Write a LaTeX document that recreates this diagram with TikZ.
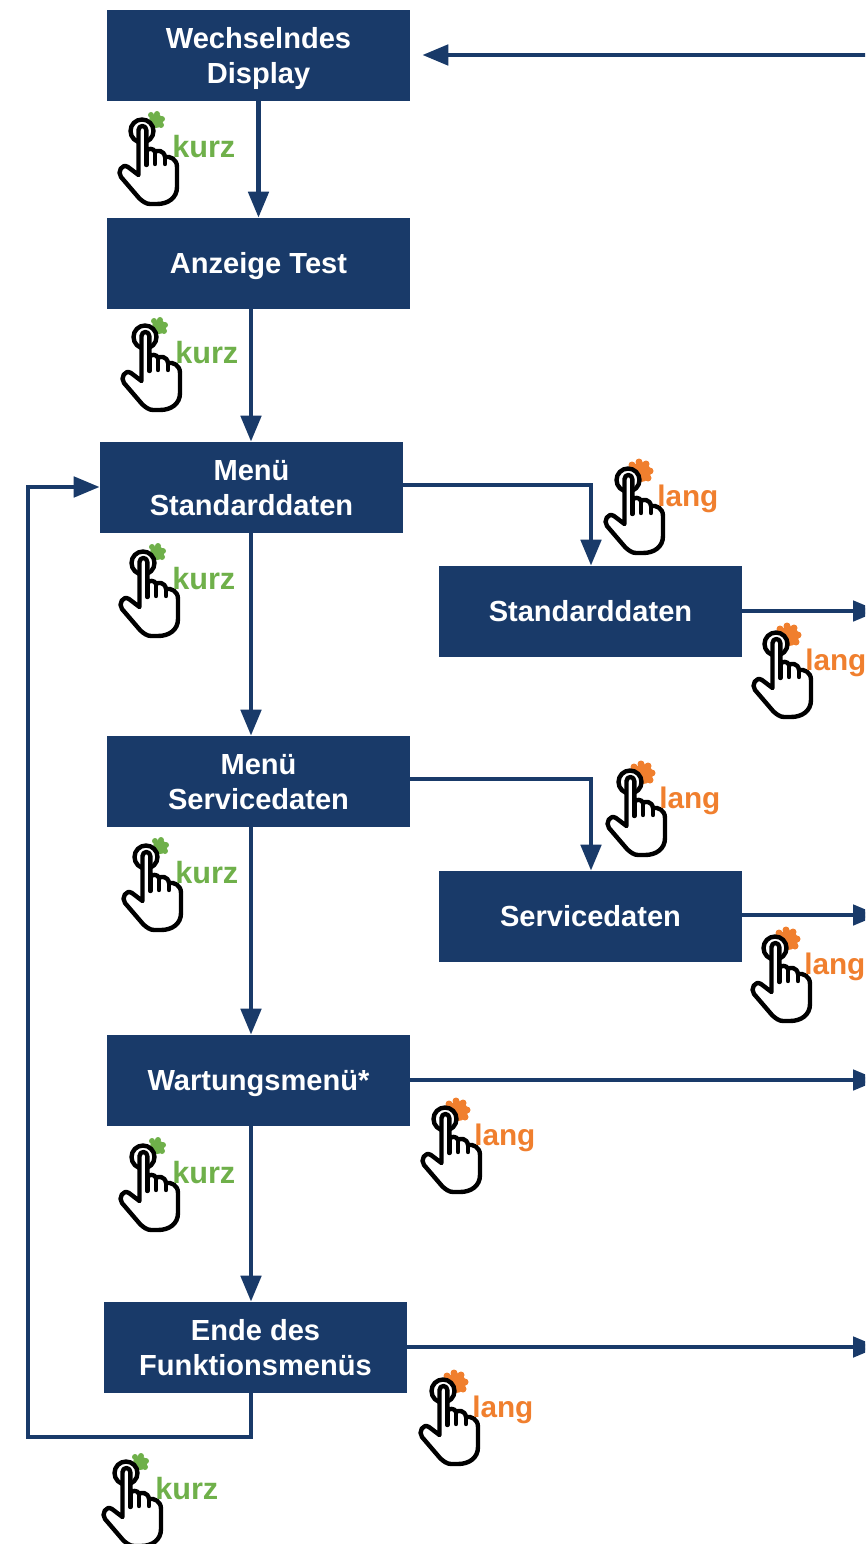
\documentclass[tikz,border=0pt]{standalone}
\usepackage{fontspec}
\setmainfont{Liberation Sans}
\usetikzlibrary{arrows.meta}
\definecolor{navy}{HTML}{193A69}
\definecolor{kgreen}{HTML}{6FB04A}
\definecolor{lorange}{HTML}{F07F2E}
\newcommand{\boxline}{\rule[-5.35pt]{0pt}{26.2pt}}
\tikzset{
  x=0.75pt,y=-0.75pt,
  menubox/.style={fill=navy,minimum width=227.25pt,minimum height=68.25pt,inner sep=0pt,align=center,text=white,
    font=\fontsize{21.8}{26.2}\selectfont\bfseries},
  link/.style={draw=navy,line width=3.6pt,line join=miter},
  arr/.style={link,-{Triangle[length=19.5pt,width=15pt]}},
  kurzlabel/.style={text=kgreen,anchor=west,inner sep=0pt,font=\fontsize{23}{26}\selectfont\bfseries},
  langlabel/.style={text=lorange,anchor=west,inner sep=0pt,yshift=-2.2pt,font=\fontsize{22.3}{26}\selectfont\bfseries},
  handline/.style={draw=black,line width=3.3pt,line join=round,line cap=round},
  pics/handgreen/.style={code={
    \fill[kgreen] (9,-16) circle (3) (15,-17) circle (3) (20,-12) circle (3) (19,-6) circle (3) (14,-10) circle (7);
    \handicon}},
  pics/handorange/.style={code={
    \fill[lorange] (4,-15) circle (3.5) (11,-18) circle (3.5) (18,-16) circle (3.5) (22,-9) circle (3.5) (20,-2) circle (3.5) (13,-8) circle (10);
    \handicon}}
}
\newcommand{\handicon}{%
  \draw[handline,fill=white] (0,0) circle (11.5);
  \draw[handline,fill=white] (-3.5,-1) .. controls (-3.5,-3.5) and (-1.5,-5) .. (0.4,-5)
     .. controls (2.5,-5) and (4.3,-3.5) .. (4.3,-1) -- (4.3,20)
     .. controls (6,17) and (12,17) .. (13,21)
     .. controls (15,19) and (22,19) .. (23,26)
     .. controls (28,25) and (35,28) .. (35,36)
     -- (35,56) .. controls (35,67) and (26,73) .. (15,73)
     -- (8,73) .. controls (4,73) and (0,70) .. (-3,67)
     -- (-21,46) .. controls (-25,41) and (-20,32) .. (-14,36)
     -- (-3.5,44) -- cycle;
  \draw[handline] (4.3,20) -- (4.3,34) (13,21) -- (13,33) (23,26) -- (23,33);
}
\begin{document}
\begin{tikzpicture}
\useasboundingbox (0,0) rectangle (865,1544);
\clip (0,0) rectangle (865,1544);
\node[menubox] (wechsel) at (258.5,55.5) {\boxline Wechselndes\\\boxline Display};
\node[menubox] (anzeige) at (258.5,263.5) {\boxline Anzeige Test};
\node[menubox] (menustd) at (251.5,487.5) {\boxline Menü\\\boxline Standarddaten};
\node[menubox] (std) at (590.5,611.5) {\boxline Standarddaten};
\node[menubox] (menuserv) at (258.5,781.5) {\boxline Menü\\\boxline Servicedaten};
\node[menubox] (serv) at (590.5,916.5) {\boxline Servicedaten};
\node[menubox] (wart) at (258.5,1080.5) {\boxline Wartungsmenü*};
\node[menubox] (ende) at (255.5,1347.5) {\boxline Ende des\\\boxline Funktionsmenüs};
% free ends at the right edge
\coordinate (r0) at (879,55);
\coordinate (r1) at (879,611);
\coordinate (r2) at (879,915);
\coordinate (r3) at (879,1080);
\coordinate (r4) at (879,1347);
\coordinate (b1) at (251,1437);
\coordinate (b2) at (28,1437);
\coordinate (b3) at (28,487);
\coordinate (x1) at (251,0);
\coordinate (t1) at (591,485);
\coordinate (t2) at (591,779);
% connectors
\draw[arr,shorten >=9pt] (r0) -- (wechsel.east |- r0);
\draw[arr] (wechsel.south) -- (anzeige.north);
\draw[arr] (anzeige.south -| x1) -- (menustd.north -| x1);
\draw[arr] (menustd.south -| x1) -- (menuserv.north -| x1);
\draw[arr] (menuserv.south -| x1) -- (wart.north -| x1);
\draw[arr] (wart.south -| x1) -- (ende.north -| x1);
\draw[arr] (ende.south -| b1) -- (b1) -- (b2) -- (b3) -- (menustd.west |- b3);
\draw[arr] (menustd.east |- t1) -- (t1) -- (std.north -| t1);
\draw[arr] (menuserv.east |- t2) -- (t2) -- (serv.north -| t2);
\draw[arr] (std.east |- r1) -- (r1);
\draw[arr] (serv.east |- r2) -- (r2);
\draw[arr] (wart.east |- r3) -- (r3);
\draw[arr] (ende.east |- r4) -- (r4);
% hands
\pic at (142,131) {handgreen};
\node[kurzlabel] (k1) at (172,147) {kurz};
\pic at (145,337) {handgreen};
\node[kurzlabel] (k2) at (175,353) {kurz};
\pic at (143,563) {handgreen};
\node[kurzlabel] (k3) at (172,579) {kurz};
\pic at (146,857) {handgreen};
\node[kurzlabel] (k4) at (175,873) {kurz};
\pic at (143,1157) {handgreen};
\node[kurzlabel] (k5) at (172,1173) {kurz};
\pic at (126,1473) {handgreen};
\node[kurzlabel] (k6) at (155,1489) {kurz};
\pic at (628,480) {handorange};
\node[langlabel] (l1) at (657,496) {lang};
\pic at (776,644) {handorange};
\node[langlabel] (l2) at (805,660) {lang};
\pic at (630,782) {handorange};
\node[langlabel] (l3) at (659,798) {lang};
\pic at (775,948) {handorange};
\node[langlabel] (l4) at (804,964) {lang};
\pic at (445,1119) {handorange};
\node[langlabel] (l5) at (474,1135) {lang};
\pic at (443,1391) {handorange};
\node[langlabel] (l6) at (472,1407) {lang};
\end{tikzpicture}
\end{document}
